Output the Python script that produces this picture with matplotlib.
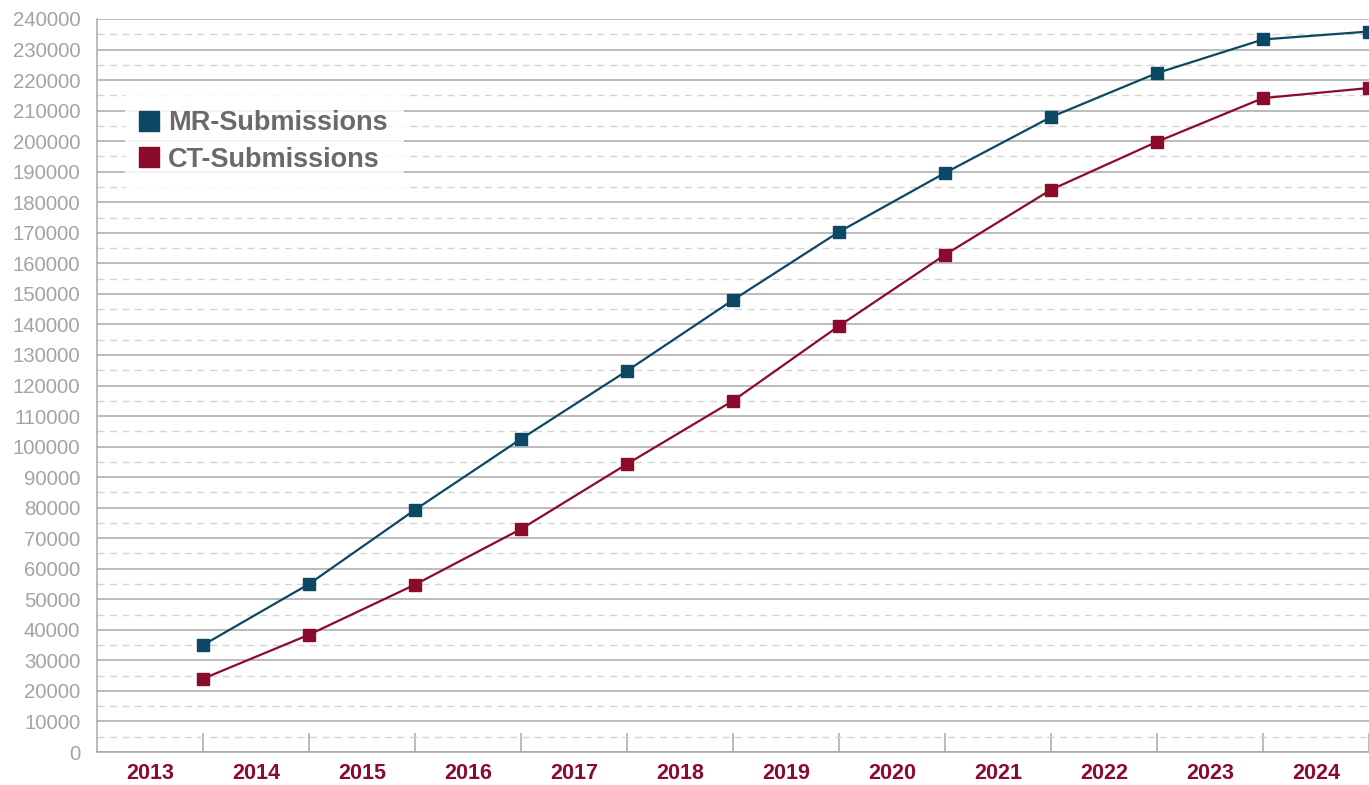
import matplotlib.pyplot as plt
import numpy as np
from matplotlib.lines import Line2D

years = ['2013', '2014', '2015', '2016', '2017', '2018',
         '2019', '2020', '2021', '2022', '2023', '2024']
mr_submissions = [35000, 55000, 79300, 102500, 124800, 148000,
                  170300, 189600, 207900, 222300, 233300, 235900]
ct_submissions = [24000, 38400, 54800, 73000, 94300, 115000,
                  139500, 162800, 184100, 199800, 214100, 217400]

mr_color = '#0b4864'
ct_color = '#8c0a2c'
grid_color = '#a8a8a8'

plt.rcParams['font.family'] = ['Liberation Sans', 'DejaVu Sans']

fig = plt.figure(figsize=(13.69, 7.85), dpi=100)
ax = fig.add_axes([97 / 1369, 1 - 752 / 785, 1 - 97 / 1369, (752 - 19) / 785])

# points sit on the right edge of each year's band
x = np.arange(1, len(years) + 1)
ax.plot(x, mr_submissions, color=mr_color, lw=1.6, marker='s', ms=9,
        clip_on=False, zorder=3)
ax.plot(x, ct_submissions, color=ct_color, lw=1.6, marker='s', ms=9,
        clip_on=False, zorder=3)

ax.set_xlim(0, len(years))
ax.set_ylim(0, 240000)

ax.set_yticks(np.arange(0, 240001, 10000))
ax.set_yticks(np.arange(5000, 240000, 10000), minor=True)
ax.yaxis.set_major_formatter(plt.FuncFormatter(lambda v, p: '%d' % v))
ax.grid(axis='y', which='major', color=grid_color, lw=1.1)
ax.grid(axis='y', which='minor', color='#d4d4d4', lw=1.0, ls=(0, (5, 4)))
ax.set_axisbelow(True)

ax.set_xticks(x)
ax.set_xticklabels([])
ax.set_xticks(x - 0.5, minor=True)
ax.set_xticklabels(years, minor=True, fontsize=15.5, fontweight='bold',
                   color=ct_color)
ax.tick_params(axis='x', which='major', direction='in', length=14,
               color=grid_color, width=1.1)
ax.tick_params(axis='x', which='minor', length=0, pad=8)
ax.tick_params(axis='y', which='both', length=0, labelsize=14.7,
               labelcolor='#a3a3a3', pad=12)

for side in ['top', 'right']:
    ax.spines[side].set_visible(False)
for side in ['left', 'bottom']:
    ax.spines[side].set_color(grid_color)
    ax.spines[side].set_linewidth(1.1)

handles = [Line2D([], [], color=mr_color, marker='s', ls='none', ms=14),
           Line2D([], [], color=ct_color, marker='s', ls='none', ms=14)]
leg = ax.legend(handles, ['MR-Submissions', 'CT-Submissions'],
                loc='upper left', bbox_to_anchor=(0.022, 0.898),
                borderaxespad=0, frameon=True, fancybox=False,
                framealpha=0.85, edgecolor='none', facecolor='white',
                handlelength=0.6, handletextpad=0.4, labelspacing=0.4,
                borderpad=0.6, prop={'size': 19.5, 'weight': 'bold'})
for t in leg.get_texts():
    t.set_color('#6a6a6a')

fig.savefig('out.png', dpi=100)
